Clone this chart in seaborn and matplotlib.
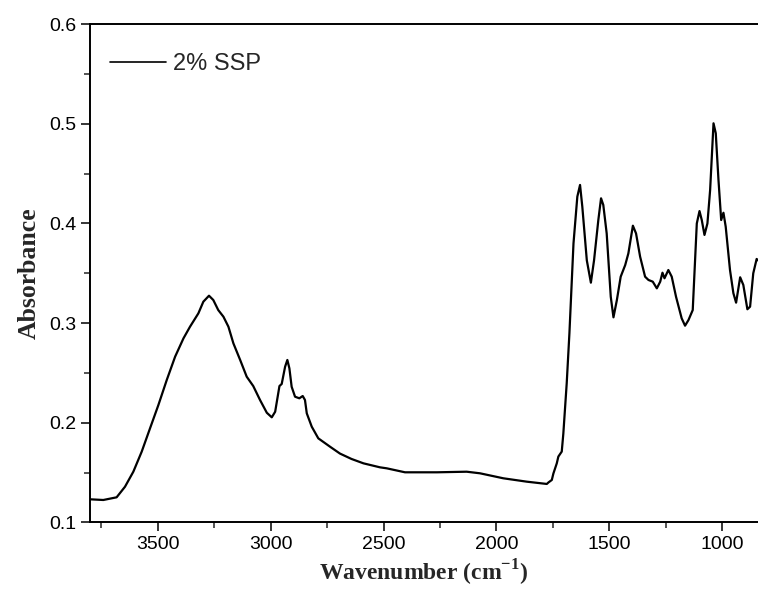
import pandas as pd
import matplotlib
matplotlib.use("Agg")
import matplotlib.pyplot as plt
from matplotlib.ticker import MultipleLocator
import seaborn as sns

# FTIR spectrum
wavenumber = [
    3800, 3741, 3682, 3645, 3608, 3571, 3534, 3497, 3460, 3423,
    3386, 3357, 3320, 3298, 3273, 3254, 3232, 3209, 3187, 3165,
    3135, 3106, 3077, 3047, 3017, 2995, 2980, 2961, 2951, 2936,
    2926, 2917, 2907, 2892, 2873, 2858, 2848, 2840, 2818, 2789,
    2737, 2693, 2642, 2589, 2516, 2486, 2405, 2264, 2132, 2073,
    1970, 1866, 1777, 1770, 1755, 1748, 1733, 1726, 1711, 1704,
    1689, 1677, 1659, 1642, 1630, 1620, 1600, 1582, 1568, 1549,
    1537, 1527, 1512, 1494, 1482, 1467, 1450, 1430, 1416, 1396,
    1382, 1364, 1342, 1327, 1308, 1290, 1275, 1265, 1256, 1239,
    1224, 1205, 1180, 1165, 1150, 1131, 1113, 1101, 1091, 1079,
    1066, 1054, 1039, 1029, 1017, 1005, 995, 985, 966, 951,
    939, 921, 907, 889, 877, 863, 848, 842,
]
absorbance = [
    0.1231, 0.1224, 0.1251, 0.1357, 0.1508, 0.1709, 0.1944, 0.2178, 0.2429, 0.2663,
    0.2847, 0.2964, 0.3098, 0.3215, 0.3275, 0.3232, 0.3131, 0.3064, 0.2964, 0.2797,
    0.263, 0.2462, 0.2368, 0.2228, 0.210, 0.2054, 0.211, 0.2368, 0.2389, 0.2562,
    0.263, 0.2546, 0.2361, 0.2261, 0.2245, 0.2268, 0.2228, 0.2094, 0.196, 0.1843,
    0.1759, 0.169, 0.1636, 0.1592, 0.1552, 0.1542, 0.1502, 0.1502, 0.1508, 0.1492,
    0.1442, 0.1408, 0.1385, 0.140, 0.1425, 0.149, 0.1592, 0.166, 0.171, 0.189,
    0.2396, 0.290, 0.380, 0.427, 0.4387, 0.417, 0.363, 0.3406, 0.363, 0.4035,
    0.4253, 0.4186, 0.390, 0.3265, 0.3058, 0.323, 0.3466, 0.3583, 0.370, 0.3978,
    0.390, 0.3667, 0.3466, 0.3433, 0.3416, 0.3349, 0.3416, 0.3506, 0.345, 0.3533,
    0.3466, 0.3265, 0.3048, 0.2974, 0.303, 0.3131, 0.400, 0.4125, 0.4035, 0.3885,
    0.400, 0.4336, 0.5006, 0.4906, 0.4437, 0.4035, 0.4108, 0.3968, 0.3533, 0.330,
    0.3205, 0.346, 0.3383, 0.3139, 0.3165, 0.350, 0.3644, 0.363,
]
series_label = "2% SSP"

df = pd.DataFrame({"wavenumber": wavenumber, "absorbance": absorbance})
df["sample"] = series_label

sns.set_style("ticks")
plt.rcParams["font.family"] = ["Liberation Sans", "DejaVu Sans"]

fig = plt.figure(figsize=(7.58, 5.94), dpi=100)
ax = fig.add_axes([0.1187, 0.1207, 0.8813, 0.8384])

sns.lineplot(data=df, x="wavenumber", y="absorbance", hue="sample",
             palette=["black"], sort=False, linewidth=1.6, ax=ax)

ax.set_xlim(3800, 842)
ax.set_ylim(0.1, 0.6)
ax.xaxis.set_major_locator(MultipleLocator(500))
ax.xaxis.set_minor_locator(MultipleLocator(250))
ax.yaxis.set_major_locator(MultipleLocator(0.1))
ax.yaxis.set_minor_locator(MultipleLocator(0.05))
ax.tick_params(which="major", direction="out", length=6.5, width=1.1,
               labelsize=14, colors="black")
ax.tick_params(which="minor", direction="out", length=4, width=1.1)
ax.tick_params(top=False, right=False, which="both")

for side in ["left", "bottom", "top"]:
    ax.spines[side].set_visible(True)
    ax.spines[side].set_linewidth(1.4)
    ax.spines[side].set_color("black")
ax.spines["right"].set_visible(False)

ax.set_xlabel("Wavenumber (cm$^{\\mathregular{-1}}$)", fontsize=17,
              fontweight="bold", family="Liberation Serif", labelpad=3)
ax.set_ylabel("Absorbance", fontsize=18.5, fontweight="bold",
              family="Liberation Serif", labelpad=6)

leg = ax.legend(loc="upper left", frameon=False, fontsize=17,
                handlelength=2.35, handletextpad=0.3,
                borderaxespad=0, borderpad=0,
                bbox_to_anchor=(0.03, 0.942))
for line in leg.get_lines():
    line.set_linewidth(1.2)

fig.savefig("out.png", dpi=100)
